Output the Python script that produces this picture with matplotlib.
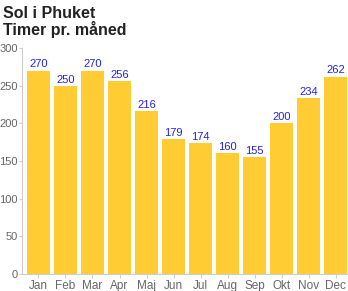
import matplotlib
matplotlib.use("Agg")
import matplotlib.pyplot as plt

plt.rcParams["font.family"] = ["Liberation Sans", "DejaVu Sans"]

months = ["Jan", "Feb", "Mar", "Apr", "Maj", "Jun", "Jul", "Aug", "Sep", "Okt", "Nov", "Dec"]
hours = [270, 250, 270, 256, 216, 179, 174, 160, 155, 200, 234, 262]
yticks = [0, 50, 100, 150, 200, 250, 300]

W, H = 348, 291
fig = plt.figure(figsize=(W / 100, H / 100), dpi=100)
left, right, bottom, top = 22, 348, 274, 48
ax = fig.add_axes([left / W, (H - bottom) / H, (right - left) / W, (bottom - top) / H])

x = list(range(len(months)))
ax.bar(x, hours, width=0.85, color="#FFCC33", zorder=2)
for xi, v in zip(x, hours):
    ax.text(xi, v + 1.5, str(v), ha="center", va="bottom", color="#2222ee", fontsize=8)

ax.set_xlim(-0.61, 11.46)
ax.set_ylim(0, 300)
ax.set_yticks(yticks)
ax.set_xticks(x)
ax.set_xticklabels(months)
for s in ["top", "right"]:
    ax.spines[s].set_visible(False)
for s in ["left", "bottom"]:
    ax.spines[s].set_color("#cccccc")
    ax.spines[s].set_linewidth(0.8)
ax.tick_params(axis="x", colors="#cccccc", labelcolor="#666666", labelsize=8.5, length=3, width=0.8, pad=1.5)
ax.tick_params(axis="y", colors="#cccccc", labelcolor="#666666", labelsize=8, length=2.5, width=0.8, pad=0.5)

fig.text(3 / W, 1 - 13 / H, "Sol i Phuket", fontsize=11.5, fontweight="bold", color="#222222", va="center", ha="left")
fig.text(3 / W, 1 - 30 / H, "Timer pr. måned", fontsize=11.5, fontweight="bold", color="#222222", va="center", ha="left")

fig.savefig("out.png", dpi=100)
